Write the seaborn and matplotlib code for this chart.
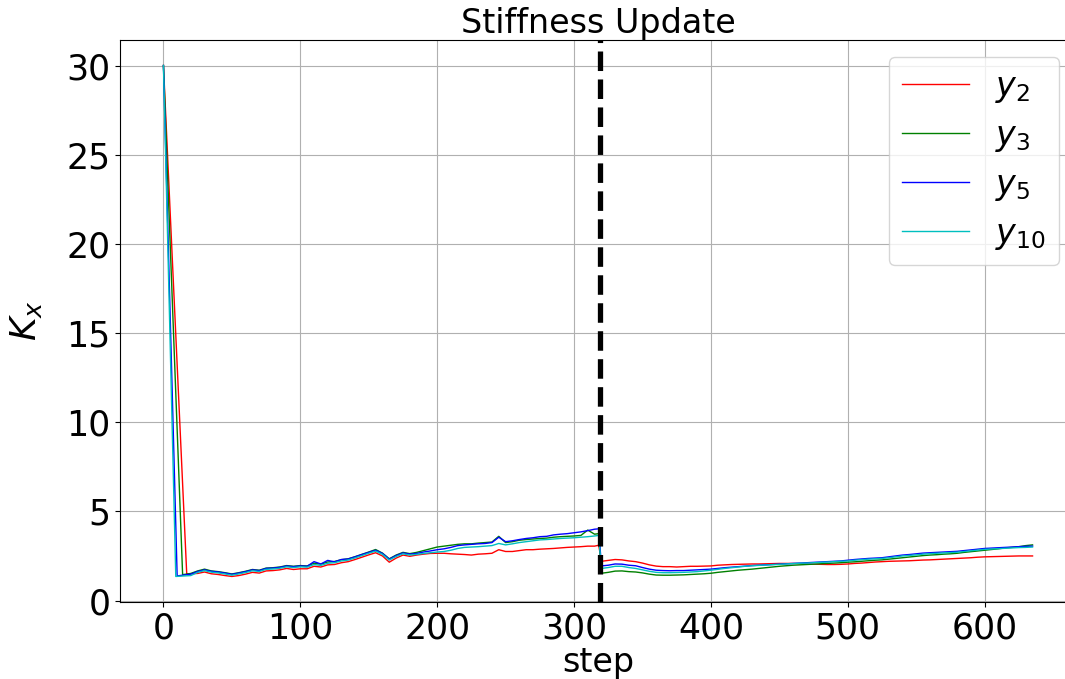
import numpy as np
import pandas as pd
import matplotlib
matplotlib.use("Agg")
import matplotlib.pyplot as plt
import seaborn as sns

# ---- data ----
head_y2 = ([0, 17], [30.0, 1.50])
head_y3 = ([0, 14], [30.0, 1.45])
head_y5 = ([0, 10], [30.0, 1.38])
head_y10 = ([0, 9], [30.0, 1.35])

steps_a = list(range(20, 200, 5))
steps_b = list(range(200, 316, 5)) + [318]
steps_c = list(range(320, 636, 5))

y2_a = [1.50, 1.52, 1.60, 1.50, 1.46, 1.40, 1.35, 1.40, 1.48, 1.58, 1.54, 1.66, 1.68, 1.72, 1.80, 1.74,
        1.78, 1.78, 1.92, 1.88, 2.00, 2.02, 2.12, 2.18, 2.30, 2.43, 2.56, 2.68, 2.50, 2.15, 2.38, 2.55,
        2.48, 2.55, 2.60, 2.64]
y3_a = [1.52, 1.66, 1.76, 1.66, 1.62, 1.56, 1.49, 1.56, 1.64, 1.74, 1.70, 1.82, 1.84, 1.88, 1.96, 1.92,
        1.96, 1.94, 2.09, 2.04, 2.16, 2.19, 2.29, 2.34, 2.46, 2.59, 2.72, 2.86, 2.66, 2.34, 2.55, 2.70,
        2.63, 2.70, 2.80, 2.90]
y5_a = [1.48, 1.63, 1.72, 1.64, 1.60, 1.54, 1.47, 1.54, 1.62, 1.72, 1.68, 1.80, 1.82, 1.86, 1.94, 1.90,
        1.94, 1.92, 2.18, 2.05, 2.25, 2.17, 2.30, 2.33, 2.45, 2.58, 2.70, 2.82, 2.64, 2.32, 2.52, 2.67,
        2.60, 2.64, 2.72, 2.78]
y10_a = [1.40, 1.58, 1.68, 1.59, 1.55, 1.49, 1.42, 1.49, 1.57, 1.67, 1.63, 1.75, 1.77, 1.81, 1.89, 1.85,
         1.89, 1.87, 2.02, 1.97, 2.09, 2.12, 2.22, 2.27, 2.39, 2.52, 2.65, 2.77, 2.59, 2.27, 2.47, 2.62,
         2.55, 2.59, 2.64, 2.68]

y2_b = [2.65, 2.65, 2.62, 2.60, 2.58, 2.55, 2.60, 2.62, 2.65, 2.85, 2.75, 2.75, 2.80, 2.85, 2.85, 2.88,
        2.90, 2.92, 2.95, 2.98, 3.00, 3.02, 3.05, 3.05, 3.10]
y3_b = [3.00, 3.05, 3.10, 3.15, 3.18, 3.18, 3.22, 3.25, 3.28, 3.60, 3.25, 3.30, 3.38, 3.42, 3.45, 3.48,
        3.50, 3.55, 3.58, 3.60, 3.62, 3.65, 3.95, 3.72, 3.75]
y5_b = [2.85, 2.90, 2.98, 3.08, 3.12, 3.15, 3.18, 3.20, 3.25, 3.55, 3.30, 3.35, 3.42, 3.48, 3.52, 3.58,
        3.60, 3.68, 3.72, 3.75, 3.80, 3.85, 3.92, 4.00, 4.02]
y10_b = [2.72, 2.75, 2.82, 2.92, 2.98, 3.00, 3.02, 3.05, 3.08, 3.20, 3.12, 3.18, 3.25, 3.30, 3.35, 3.40,
         3.42, 3.45, 3.48, 3.50, 3.52, 3.55, 3.58, 3.62, 3.65]

y2_c = [2.20, 2.25, 2.30, 2.28, 2.22, 2.18, 2.10, 2.00, 1.93, 1.90, 1.90, 1.88, 1.90, 1.92, 1.92, 1.93,
        1.94, 1.98, 2.00, 2.02, 2.03, 2.04, 2.05, 2.05, 2.06, 2.07, 2.08, 2.08, 2.08, 2.07, 2.05, 2.04,
        2.03, 2.02, 2.02, 2.03, 2.05, 2.08, 2.10, 2.13, 2.16, 2.18, 2.20, 2.21, 2.22, 2.23, 2.25, 2.27,
        2.28, 2.30, 2.32, 2.34, 2.36, 2.38, 2.40, 2.43, 2.45, 2.46, 2.47, 2.48, 2.49, 2.50, 2.50, 2.50]
y3_c = [1.53, 1.58, 1.65, 1.66, 1.62, 1.60, 1.55, 1.48, 1.43, 1.42, 1.42, 1.43, 1.44, 1.46, 1.48, 1.50,
        1.53, 1.58, 1.62, 1.66, 1.70, 1.73, 1.76, 1.80, 1.84, 1.88, 1.92, 1.95, 1.98, 2.00, 2.02, 2.04,
        2.06, 2.08, 2.10, 2.12, 2.15, 2.17, 2.20, 2.23, 2.26, 2.28, 2.32, 2.36, 2.40, 2.44, 2.48, 2.52,
        2.55, 2.57, 2.60, 2.62, 2.65, 2.70, 2.74, 2.78, 2.82, 2.86, 2.90, 2.95, 2.98, 3.02, 3.08, 3.12]
y5_c = [1.94, 1.98, 2.05, 2.04, 1.98, 1.95, 1.85, 1.76, 1.70, 1.68, 1.67, 1.68, 1.68, 1.70, 1.72, 1.74,
        1.76, 1.80, 1.84, 1.87, 1.90, 1.93, 1.96, 1.98, 2.00, 2.02, 2.04, 2.06, 2.08, 2.10, 2.12, 2.14,
        2.16, 2.18, 2.20, 2.22, 2.26, 2.30, 2.33, 2.36, 2.38, 2.40, 2.45, 2.50, 2.55, 2.58, 2.62, 2.66,
        2.68, 2.70, 2.72, 2.74, 2.76, 2.80, 2.84, 2.88, 2.92, 2.94, 2.96, 2.98, 3.00, 3.02, 3.04, 3.05]
y10_c = [1.80, 1.85, 1.92, 1.92, 1.85, 1.80, 1.72, 1.64, 1.58, 1.56, 1.56, 1.57, 1.58, 1.60, 1.62, 1.66,
         1.70, 1.75, 1.80, 1.84, 1.88, 1.92, 1.95, 1.97, 1.99, 2.01, 2.03, 2.05, 2.07, 2.09, 2.10, 2.12,
         2.14, 2.16, 2.18, 2.20, 2.22, 2.26, 2.29, 2.32, 2.34, 2.36, 2.40, 2.45, 2.50, 2.53, 2.56, 2.60,
         2.63, 2.65, 2.67, 2.69, 2.71, 2.75, 2.79, 2.83, 2.87, 2.89, 2.91, 2.93, 2.95, 2.97, 2.98, 3.00]

update_step = 319

series = [
    ("$y_2$", "r", head_y2, y2_a + y2_b + y2_c),
    ("$y_3$", "g", head_y3, y3_a + y3_b + y3_c),
    ("$y_5$", "b", head_y5, y5_a + y5_b + y5_c),
    ("$y_{10}$", "c", head_y10, y10_a + y10_b + y10_c),
]
tail_steps = steps_a + steps_b + steps_c

fig = plt.figure(figsize=(10.65, 6.79), dpi=100)
# axes runs past the right edge, like the cropped original
ax = fig.add_axes([120 / 1065, 77 / 679, 956 / 1065, 562 / 679])

for name, col, head, tail in series:
    df = pd.DataFrame({"step": head[0] + tail_steps, "K": head[1] + tail})
    sns.lineplot(data=df, x="step", y="K", color=col, linewidth=1.0, label=name, ax=ax)

ax.axvline(update_step, color="black", linestyle="--", linewidth=3.8)

ax.grid(True, color="#b0b0b0", linewidth=0.8)
ax.set_axisbelow(True)
ax.set_xticks([0, 100, 200, 300, 400, 500, 600])
ax.set_yticks([0, 5, 10, 15, 20, 25, 30])
ax.tick_params(labelsize=25)
ax.set_title("Stiffness Update", fontsize=24, pad=4)
ax.set_xlabel("step", fontsize=24, labelpad=0)
ax.set_ylabel("$K_x$", fontsize=26, labelpad=16)
ax.legend(loc="upper right", fontsize=24, labelspacing=0.42)

fig.savefig("out.png", dpi=100)
